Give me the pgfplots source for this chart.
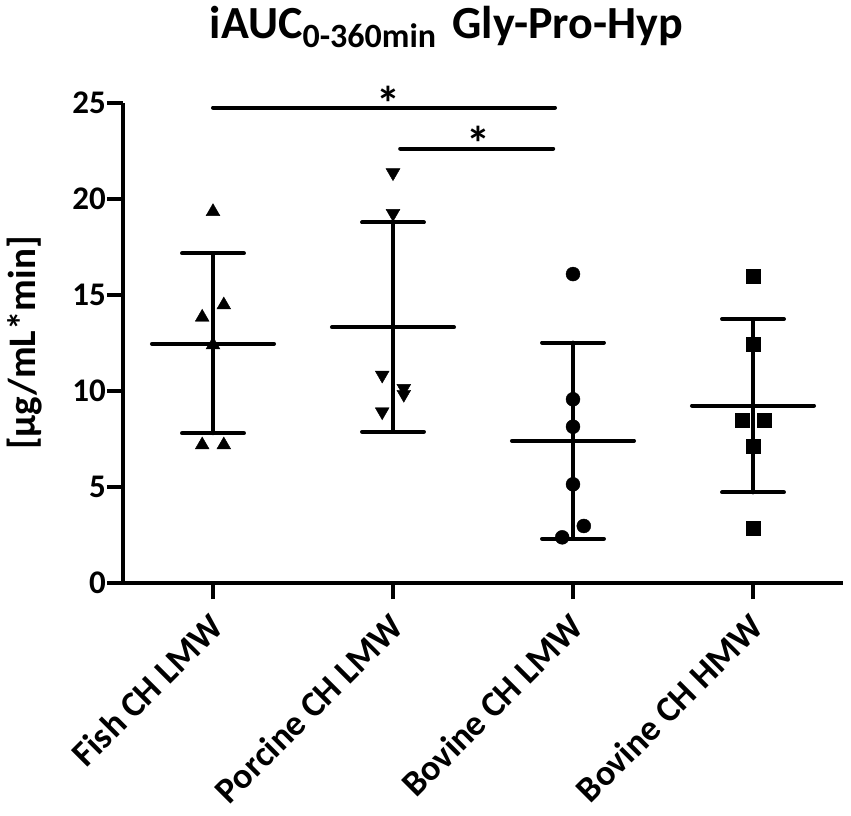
\documentclass[border=0pt]{standalone}
\usepackage{pgfplots}
\pgfplotsset{compat=1.18}
\usepackage{fontspec}
\setmainfont{Carlito}
\begin{document}
\begin{tikzpicture}
\useasboundingbox (-123pt,-232pt) rectangle (728pt,583pt);
\begin{axis}[
  at={(0,0)}, anchor=south west,
  scale only axis, width=720pt, height=480pt,
  xmin=-0.5, xmax=3.5, ymin=0, ymax=25,
  axis lines*=left,
  axis line style={line width=4pt},
  xtick={0,1,2,3},
  xticklabels={Fish CH LMW, Porcine CH LMW, Bovine CH LMW, Bovine CH HMW},
  ytick={0,5,10,15,20,25},
  tick align=outside, major tick length=16pt,
  major tick style={line width=4pt, black},
  /pgf/number format/assume math mode=true,
  yticklabel style={font=\fontsize{33}{33}\selectfont\bfseries, inner sep=1pt},
  xticklabel style={font=\fontsize{36}{36}\selectfont\bfseries, xshift=-5pt, yshift=-12pt, rotate=45, anchor=north east, inner sep=0pt},
  clip=false,
  seg/.style={black, line width=4pt, line cap=round, no marks},
]
% Fish CH LMW
\addplot[seg] coordinates {(-0.339,12.45) (0.339,12.45)};
\addplot[seg] coordinates {(0,7.80) (0,17.17)};
\addplot[seg] coordinates {(-0.172,17.17) (0.172,17.17)};
\addplot[seg] coordinates {(-0.172,7.80) (0.172,7.80)};
\addplot[only marks, mark=triangle*, mark size=8pt, mark options={fill=black, draw=black, line width=0.4pt}]
  coordinates {(0,19.34) (0.06,14.48) (-0.06,13.84) (0,12.40) (-0.06,7.19) (0.06,7.19)};
% Porcine CH LMW
\addplot[seg] coordinates {(0.661,13.32) (1.339,13.32)};
\addplot[seg] coordinates {(1,7.88) (1,18.78)};
\addplot[seg] coordinates {(0.828,18.78) (1.172,18.78)};
\addplot[seg] coordinates {(0.828,7.88) (1.172,7.88)};
\addplot[only marks, mark=triangle*, mark size=8pt, mark options={fill=black, draw=black, line width=0.4pt, rotate=180}]
  coordinates {(1,21.37) (1,19.25) (0.94,10.83) (1.06,10.14) (1.06,9.83) (0.94,8.92)};
% Bovine CH LMW
\addplot[seg] coordinates {(1.661,7.41) (2.339,7.41)};
\addplot[seg] coordinates {(2,2.31) (2,12.52)};
\addplot[seg] coordinates {(1.828,12.52) (2.172,12.52)};
\addplot[seg] coordinates {(1.828,2.31) (2.172,2.31)};
\addplot[only marks, mark=*, mark size=7pt, mark options={fill=black, draw=black, line width=0.4pt}]
  coordinates {(2,16.09) (2,9.57) (2,8.14) (2,5.14) (2.06,2.97) (1.94,2.38)};
% Bovine CH HMW
\addplot[seg] coordinates {(2.661,9.24) (3.339,9.24)};
\addplot[seg] coordinates {(3,4.72) (3,13.75)};
\addplot[seg] coordinates {(2.828,13.75) (3.172,13.75)};
\addplot[seg] coordinates {(2.828,4.72) (3.172,4.72)};
\addplot[only marks, mark=square*, mark size=7pt, mark options={fill=black, draw=black, line width=0.4pt}]
  coordinates {(3,15.99) (3,12.43) (2.94,8.49) (3.06,8.49) (3,7.15) (3,2.85)};
% significance bars
\addplot[seg] coordinates {(0,24.76) (1.90,24.76)};
\addplot[seg] coordinates {(1.04,22.63) (1.89,22.63)};
\node at (axis cs:0.976,24.99) {\fontsize{48}{48}\selectfont\bfseries *};
\node at (axis cs:1.476,22.90) {\fontsize{48}{48}\selectfont\bfseries *};
% title and y label
\node[anchor=base, yshift=65pt] at (rel axis cs:0.449,1) {\fontsize{46}{46}\selectfont\bfseries iAUC\raisebox{-9pt}{\fontsize{34}{34}\selectfont 0-360min}\hspace{6pt} Gly-Pro-Hyp};
\node[xshift=-98pt, rotate=90, anchor=center] at (rel axis cs:0,0.5) {\fontsize{39}{39}\selectfont\bfseries [µg/mL*min]};
\end{axis}
\end{tikzpicture}
\end{document}
